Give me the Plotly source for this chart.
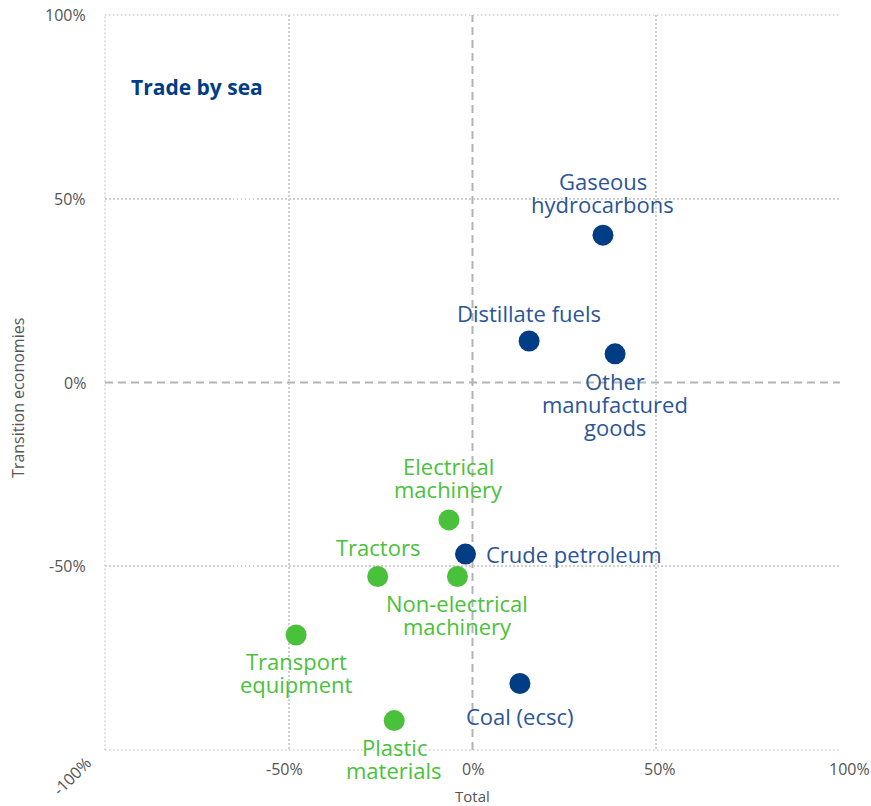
import plotly.graph_objects as go

# ---------------- data ----------------
blue_names = ["Gaseous<br>hydrocarbons", "Distillate fuels", "Other<br>manufactured<br>goods",
              "Crude petroleum", "Coal (ecsc)"]
blue_x = [35.5, 15.4, 38.8, -1.9, 12.9]
blue_y = [40.1, 11.3, 7.8, -46.7, -81.9]

green_names = ["Electrical<br>machinery", "Tractors", "Non-electrical<br>machinery",
               "Transport<br>equipment", "Plastic<br>materials"]
green_x = [-6.4, -25.8, -4.1, -48.0, -21.3]
green_y = [-37.4, -52.8, -52.8, -68.7, -92.0]

x_tick_vals = [-100, -50, 0, 50, 100]
x_tick_text = ["-100%", "-50%", "0%", "50%", "100%"]
y_tick_vals = [-50, 0, 50, 100]
y_tick_text = ["-50%", "0%", "50%", "100%"]

# ---------------- style ----------------
FONT = "Open Sans"
BLUE_M = "#003d84"
BLUE_T = "#2b5597"
GREEN_M = "#4ac13a"
GREEN_T = "#4ac13a"
GREY = "#555555"
GRID = "#cfcfcf"
LABEL_SIZE = 22
LINE_H = 23
# label placement per point: (side, first offset in px)
blue_place = [("top", 31), ("top", 27.5), ("bottom", 27), ("right", 18), ("bottom", 33)]
green_place = [("top", 30.7), ("top", 30), ("bottom", 26), ("bottom", 26), ("bottom", 26)]
x_tick_shift = [-33, -4, 0, 4, 9]

fig = go.Figure()
fig.add_trace(go.Scatter(x=blue_x, y=blue_y, mode="markers",
                         marker=dict(size=21, color=BLUE_M), hoverinfo="skip"))
fig.add_trace(go.Scatter(x=green_x, y=green_y, mode="markers",
                         marker=dict(size=21, color=GREEN_M), hoverinfo="skip"))

annotations = []


def add_labels(names, xs, ys, places, color):
    for name, x, y, (side, off) in zip(names, xs, ys, places):
        lines = name.split("<br>")
        n = len(lines)
        for i, line in enumerate(lines):
            a = dict(text=line, x=x, y=y, xref="x", yref="y", showarrow=False,
                     font=dict(family=FONT, size=LABEL_SIZE, color=color),
                     yanchor="middle")
            if side == "top":
                a.update(xanchor="center", yshift=off + (n - 1 - i) * LINE_H)
            elif side == "bottom":
                a.update(xanchor="center", yshift=-(off + i * LINE_H))
            else:
                a.update(xanchor="left", xshift=off)
            annotations.append(a)


add_labels(blue_names, blue_x, blue_y, blue_place, BLUE_T)
add_labels(green_names, green_x, green_y, green_place, GREEN_T)

# x tick labels
for v, t, s in zip(x_tick_vals, x_tick_text, x_tick_shift):
    a = dict(text=t, x=v, y=0, xref="x", yref="paper", showarrow=False,
             xshift=s, font=dict(family=FONT, size=16, color=GREY))
    if v == -100:
        a.update(textangle=-45, yshift=-26, yanchor="middle")
    else:
        a.update(yshift=-19, yanchor="middle")
    annotations.append(a)

# y tick labels
for v, t in zip(y_tick_vals, y_tick_text):
    annotations.append(dict(text=t, x=0, y=v, xref="paper", yref="y", showarrow=False,
                            xshift=-17, xanchor="right", yanchor="middle",
                            font=dict(family=FONT, size=16, color=GREY)))

annotations.append(dict(text="<b>Trade by sea</b>", xref="paper", yref="paper",
                        x=0.032, y=0.902, xanchor="left", yanchor="middle", showarrow=False,
                        font=dict(family=FONT, size=21, color=BLUE_M)))
annotations.append(dict(text="Total", xref="x", yref="paper", x=0, y=0, yshift=-46,
                        yanchor="middle", showarrow=False,
                        font=dict(family=FONT, size=15, color=GREY)))
annotations.append(dict(text="Transition economies", xref="paper", yref="paper",
                        x=0, y=0.479, xshift=-87, xanchor="center", yanchor="middle",
                        textangle=-90, showarrow=False,
                        font=dict(family=FONT, size=16, color=GREY)))

axis_common = dict(range=[-100, 100], showgrid=True, gridcolor=GRID,
                   griddash="1.5px,2.5px", gridwidth=1.5,
                   zeroline=True, zerolinecolor="rgba(0,0,0,0)", zerolinewidth=1,
                   showline=False, ticks="", showticklabels=False)

edge = dict(color=GRID, width=1.5, dash="1.5px,2.5px")

fig.update_layout(
    width=871, height=806,
    margin=dict(l=105, r=31, t=15, b=56),
    paper_bgcolor="white", plot_bgcolor="white",
    showlegend=False,
    font=dict(family=FONT, color=GREY),
    xaxis=dict(tickvals=x_tick_vals, **axis_common),
    yaxis=dict(tickvals=y_tick_vals, **axis_common),
    shapes=[
        dict(type="line", xref="paper", yref="paper", x0=0, x1=0, y0=0, y1=1,
             line=edge, layer="below"),
        dict(type="line", xref="paper", yref="paper", x0=0, x1=1, y0=0, y1=0,
             line=edge, layer="below"),
        dict(type="line", xref="paper", yref="paper", x0=0, x1=1, y0=1, y1=1,
             line=edge, layer="below"),
        dict(type="line", xref="x", yref="y", x0=-100, x1=100, y0=0, y1=0,
             line=dict(color="#b3b3b3", width=2, dash="8px,5px"), layer="below"),
        dict(type="line", xref="x", yref="y", x0=0, x1=0, y0=-100, y1=100,
             line=dict(color="#b3b3b3", width=2, dash="8px,5px"), layer="below"),
    ],
    annotations=annotations,
)

fig.write_html("out.html", config={"displayModeBar": False},
               post_script="document.body.style.margin='0';")
